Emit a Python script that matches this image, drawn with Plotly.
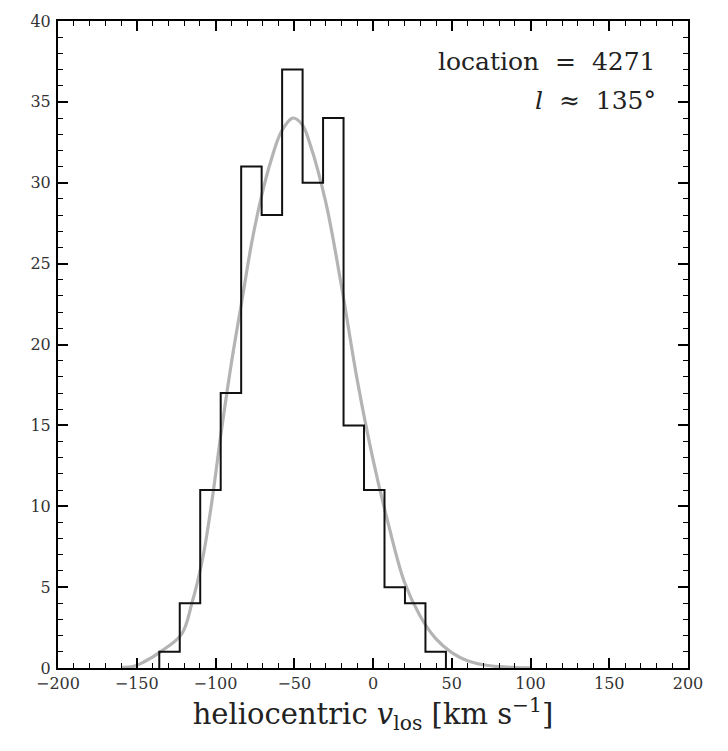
import plotly.graph_objects as go

# ---- data ----
bin_edges = [-135.7, -122.7, -109.7, -96.7, -83.7, -70.7, -57.7, -44.7,
             -31.7, -18.7, -5.7, 7.3, 20.3, 33.3, 46.3]
counts = [1, 4, 11, 17, 31, 28, 37, 30, 34, 15, 11, 5, 4, 1]

curve_x = [-160, -152, -145, -135, -121.5, -115, -108, -102, -96.5, -90, -83,
           -77, -70.7, -65, -58, -51, -45, -40, -30, -20, -10, 0, 10, 20,
           30, 40, 50, 60, 70, 80, 90, 100]
curve_y = [0.03, 0.1, 0.4, 1.0, 2.1, 4.0, 6.85, 10.5, 14.5, 18.8, 22.85,
           26.3, 29.2, 31.3, 33.2, 34.0, 33.6, 32.4, 28.8, 23.6, 17.8, 12.9,
           8.8, 5.3, 3.2, 1.8, 0.95, 0.45, 0.2, 0.08, 0.03, 0.01]

x_ticks = [-200, -150, -100, -50, 0, 50, 100, 150, 200]
y_ticks = [0, 5, 10, 15, 20, 25, 30, 35, 40]

# ---- step outline of the histogram ----
step_x = [bin_edges[0]] + bin_edges[:-1] + [bin_edges[-1]]
step_y = [0] + counts + [0]

SERIF = "DejaVu Serif"

fig = go.Figure()
fig.add_trace(go.Scatter(x=curve_x, y=curve_y, mode="lines",
                         line=dict(color="#b4b4b4", width=3.2, shape="spline"),
                         hoverinfo="skip", showlegend=False))
fig.add_trace(go.Scatter(x=step_x, y=step_y, mode="lines",
                         line=dict(color="#111111", width=2, shape="hv"),
                         showlegend=False))

tickfont = dict(family=SERIF, size=16, color="#333")
axis_common = dict(showgrid=False, zeroline=False, showline=True, linecolor="black",
                   linewidth=2, mirror="allticks", ticks="inside", ticklen=10,
                   tickwidth=1.5, tickcolor="black", tickfont=tickfont)

fig.update_xaxes(range=[-200, 200], tickmode="array", tickvals=x_ticks,
                 ticktext=[str(v).replace("-", "\u2212") for v in x_ticks],
                 minor=dict(ticks="inside", ticklen=5, dtick=10, tick0=0,
                            tickwidth=1.3, tickcolor="black"),
                 title=dict(text="heliocentric <i>v</i><sub>los</sub> [km s<sup>\u22121</sup>]",
                            font=dict(family=SERIF, size=29, color="#222"), standoff=4),
                 **axis_common)
fig.update_yaxes(range=[0, 40], tickmode="array", tickvals=y_ticks,
                 ticktext=[str(v) for v in y_ticks],
                 minor=dict(ticks="inside", ticklen=5, dtick=1, tick0=0,
                            tickwidth=1.3, tickcolor="black"),
                 ticklabelstandoff=2,
                 **axis_common)

annfont = dict(family=SERIF, size=25, color="#222")
fig.add_annotation(xref="x domain", yref="y domain", x=0.953, y=0.937,
                   xanchor="right", yanchor="middle", showarrow=False,
                   text="location \u00a0=\u00a0 4271", font=annfont)
fig.add_annotation(xref="x domain", yref="y domain", x=0.953, y=0.877,
                   xanchor="right", yanchor="middle", showarrow=False,
                   text="<i>l</i> \u00a0\u2248\u00a0 135\u00b0", font=annfont)

fig.update_layout(width=728, height=751, margin=dict(l=58, r=40, t=18, b=83),
                  paper_bgcolor="white", plot_bgcolor="white")

fig.write_html("out.html")
